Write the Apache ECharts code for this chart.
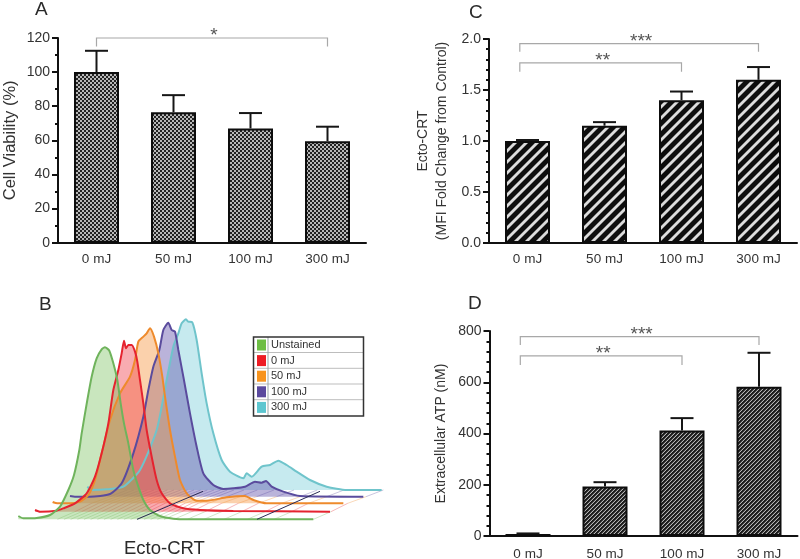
<!DOCTYPE html>
<html><head><meta charset="utf-8">
<style>html,body{margin:0;padding:0;background:#fff}#c{width:800px;height:559px}</style>
<script src="https://cdn.jsdelivr.net/npm/echarts@6/dist/echarts.min.js"></script>
</head><body><div id="c"></div>
<script>
const categories = ['0 mJ','50 mJ','100 mJ','300 mJ'];
const viability = [100,76.5,67,59.5];
const viabilityTop = [112.5,86.5,76,68];
const ectoCrt = [1.0,1.15,1.40,1.60];
const ectoCrtTop = [1.01,1.185,1.485,1.725];
const atp = [8,193,412,582];
const atpTop = [10,210,460,715];
// bracket: from category, to category, bar level, foot level, left shift in bands, stars
const bracketsA = [[0,3,120,115,0,'*']];
const bracketsC = [[0,3,1.954,1.875,-0.1,'***'],[0,2,1.765,1.68,-0.1,'**']];
const bracketsD = [[0,3,778,745,-0.1,'***'],[0,2,703,667,-0.1,'**']];

const curveNames = ['Unstained','0 mJ','50 mJ','100 mJ','300 mJ'];
const curveUnstained = [[3,10],[18,3],[58,4],[98,13],[128,38],[153,88],[170,133],[186,208],[193,258],[210,358],[223,428],[238,483],[253,510],[263,516],[276,506],[288,468],[300,418],[310,348],[320,288],[333,228],[348,148],[363,98],[378,58],[398,28],[428,10],[468,2],[508,0],[888,0]];
const curve0 = [[0,5],[15,0],[65,3],[85,10],[120,25],[155,55],[180,105],[200,175],[220,265],[235,365],[250,425],[260,475],[267,513],[273,490],[280,500],[290,500],[300,480],[307,450],[315,395],[325,325],[335,245],[350,165],[365,95],[380,55],[405,25],[445,10],[495,5],[595,2],[885,0]];
const curve50 = [[3,4],[17,0],[55,0],[85,5],[110,25],[130,70],[150,150],[175,250],[205,330],[235,380],[250,430],[260,485],[275,500],[285,510],[295,525],[307,500],[320,450],[332,380],[340,320],[355,220],[370,140],[385,70],[405,30],[435,8],[465,8],[525,18],[580,22],[605,10],[645,0],[875,0]];
const curve100 = [[0,2],[15,0],[60,0],[120,8],[155,40],[190,130],[220,240],[235,320],[250,390],[268,440],[280,500],[295,522],[305,500],[315,495],[325,440],[340,360],[360,250],[380,150],[400,70],[430,35],[460,23],[490,25],[525,30],[555,45],[575,42],[588,47],[605,30],[640,15],[690,2],[880,0]];
const curve300 = [[0,10],[13,0],[58,2],[108,10],[158,60],[208,180],[238,330],[258,430],[273,470],[283,500],[296,512],[303,505],[315,503],[328,450],[343,350],[358,260],[378,170],[403,90],[428,55],[468,35],[478,50],[493,40],[523,70],[548,75],[573,88],[598,75],[628,55],[668,30],[718,10],[778,0],[883,0]];
const curves = [curveUnstained,curve0,curve50,curve100,curve300];
const lineColors = ['#6fb35c','#e5232f','#ee8a2c','#5a4b9d','#6fc4cb'];
const fillColors = ['#7fc463','#ee3a45','#f5923a','#5a4ba8','#78cdd8'];
const swatchColors = ['#6dbe45','#ed1c24','#f7941e','#5b4a9e','#5cc6d0'];
const floorHatch = [120,140,160,180,200,220,240,260,280,300,320,340,360,380,400,420,440,470,510,560,620,690,770,888];
const gateLines = [[359,557],[719,908]];

const chart = echarts.init(document.getElementById('c'),null,{renderer:'canvas'});

function tile(size,colorAt){
  const c=document.createElement('canvas');c.width=c.height=size;
  const g=c.getContext('2d');
  for(let y=0;y<size;y++)for(let x=0;x<size;x++){g.fillStyle=colorAt(x,y);g.fillRect(x,y,1,1);}
  return {image:c,repeat:'repeat'};
}
const patChecker = tile(4,(x,y)=>(((x>>1)+(y>>1))%2)?'#222':'#b8b8b8');
const patWide = tile(11,(x,y)=>{const v=(x+y)%11;return v<6?'#0d0d0d':(v===6||v===10)?'#777':'#dcdcdc';});
const patFine = tile(4,(x,y)=>['#1c1c1c','#1c1c1c','#444','#b5b5b5'][(x+y)%4]);

const text='#333';
const font='"Liberation Sans", Arial, sans-serif';
function xAxis(g,margin){return {type:'category',gridIndex:g,data:categories,
  axisLine:{lineStyle:{color:'#111',width:2}},
  axisTick:{alignWithLabel:true,length:6,lineStyle:{color:'#111',width:2}},
  axisLabel:{color:text,fontFamily:font,fontSize:13.5,margin}};}
function yAxis(g,max,interval,minor,name,gap,nameSize,fmt){return {type:'value',gridIndex:g,min:0,max,interval,
  name,nameLocation:'middle',nameGap:gap,nameRotate:90,
  nameTextStyle:{color:text,fontFamily:font,fontSize:nameSize,lineHeight:19},
  splitLine:{show:false},
  axisLine:{show:true,lineStyle:{color:'#111',width:2}},
  axisTick:{show:true,length:6,lineStyle:{color:'#111',width:2}},
  minorTick:{show:true,splitNumber:minor,length:3,lineStyle:{color:'#111',width:2}},
  axisLabel:{color:text,fontFamily:font,fontSize:14,margin:8,formatter:fmt}};}

function bar(g,vals,pat){return {type:'bar',xAxisIndex:g,yAxisIndex:g,data:vals,barWidth:45,z:2,
  itemStyle:{color:pat,borderColor:'#0d0d0d',borderWidth:2}};}
function errors(g,vals,tops){return {type:'custom',xAxisIndex:g,yAxisIndex:g,z:3,
  data:vals.map((v,i)=>[i,v,tops[i]]),encode:{x:0,y:[1,2]},
  renderItem(p,api){
    const a=api.coord([api.value(0),api.value(1)]),b=api.coord([api.value(0),api.value(2)]);
    const st={stroke:'#161616',lineWidth:2,fill:null};
    return {type:'group',children:[
      {type:'line',shape:{x1:a[0],y1:a[1],x2:b[0],y2:b[1]},style:st},
      {type:'line',shape:{x1:b[0]-11.5,y1:b[1],x2:b[0]+11.5,y2:b[1]},style:st}]};
  }};}
function brackets(g,list){return {type:'custom',xAxisIndex:g,yAxisIndex:g,z:4,clip:false,
  data:list.map(b=>b.slice(0,5)),encode:{x:[0,1],y:[2,3]},
  renderItem(p,api){
    const band=api.size([1,0])[0], sh=api.value(4)*band;
    const l=api.coord([api.value(0),api.value(2)]),r=api.coord([api.value(1),api.value(2)]);
    const f=api.coord([api.value(0),api.value(3)]);
    const x1=l[0]+sh,x2=r[0],y=l[1],yf=f[1];
    return {type:'group',children:[
      {type:'polyline',shape:{points:[[x1,yf],[x1,y],[x2,y],[x2,yf]]},style:{stroke:'#a8a8a8',lineWidth:1.2,fill:null}},
      {type:'text',style:{x:(x1+x2)/2+2,y:y-2,text:list[p.dataIndex][5],textAlign:'center',textVerticalAlign:'middle',fill:'#555',font:'19px '+font}}]};
  }};}

// histogram lanes: own axes offset like a flow-cytometry overlay
const laneLeft = [17.33,35,51.67,70,87.33];
const laneBase = [519.33,511.67,503.33,496.67,490];
const grids=[{left:58,top:38,width:308,height:204.7,outerBoundsMode:'none'},
  {left:489,top:39,width:308,height:204,outerBoundsMode:'none'},
  {left:489.5,top:331,width:308,height:205,outerBoundsMode:'none'}];
const xs=[xAxis(0,10),xAxis(1,9),xAxis(2,11)];
const ys=[yAxis(0,120,20,2,'Cell Viability (%)',38,16.5),
  yAxis(1,2,0.5,5,'Ecto-CRT\n(MFI Fold Change from Control)',37,14,v=>v.toFixed(1)),
  yAxis(2,800,200,5,'Extracellular ATP (nM)',39,14)];
laneLeft.forEach((l,i)=>{
  grids.push({left:l,top:laneBase[i]-200,width:300,height:200,outerBoundsMode:'none'});
  xs.push({type:'value',gridIndex:3+i,min:0,max:900,show:false});
  ys.push({type:'value',gridIndex:3+i,min:0,max:600,show:false});
});
const series=[bar(0,viability,patChecker),errors(0,viability,viabilityTop),brackets(0,bracketsA),
  bar(1,ectoCrt,patWide),errors(1,ectoCrt,ectoCrtTop),brackets(1,bracketsC),
  bar(2,atp,patFine),errors(2,atp,atpTop),brackets(2,bracketsD)];
// floor hatching between lanes, back to front
for(let i=3;i>=0;i--){
  const dx=(laneLeft[i+1]-laneLeft[i])*3, dy=(laneBase[i]-laneBase[i+1])*3;
  series.push({type:'custom',xAxisIndex:3+i,yAxisIndex:3+i,z:1,silent:true,clip:false,
    data:floorHatch.map(x=>[x,0]),
    renderItem(p,api){
      const a=api.coord([api.value(0),0]),b=api.coord([api.value(0)+dx,dy]);
      return {type:'line',shape:{x1:a[0],y1:a[1],x2:b[0],y2:b[1]},style:{stroke:lineColors[i],opacity:.33,lineWidth:1}};
    }});
}
for(let i=4;i>=0;i--){
  series.push({type:'line',name:curveNames[i],xAxisIndex:3+i,yAxisIndex:3+i,data:curves[i],
    smooth:.2,showSymbol:false,symbol:'none',clip:false,z:2,
    lineStyle:{color:lineColors[i],width:2},itemStyle:{color:swatchColors[i]},
    areaStyle:{color:fillColors[i],opacity:.42}});
}
series.push({type:'custom',xAxisIndex:3,yAxisIndex:3,z:3,silent:true,clip:false,
  data:gateLines,encode:{x:[0,1]},
  renderItem(p,api){
    const a=api.coord([api.value(0),0]),b=api.coord([api.value(1),84]);
    return {type:'line',shape:{x1:a[0],y1:a[1],x2:b[0],y2:b[1]},style:{stroke:'#2b2b55',lineWidth:1}};
  }});

function label(t,left,top,size){return {text:t,left,top,padding:0,textStyle:{color:'#2a2a2a',fontFamily:font,fontWeight:'normal',fontSize:size}};}
const rowLine=y=>({type:'line',shape:{x1:254,y1:y,x2:363,y2:y},style:{stroke:'#bdbdbd',lineWidth:1}});
chart.setOption({
  animation:false,backgroundColor:'#fff',
  title:[label('A',35,0,19),label('B',39,295,19),label('C',469,3,19),label('D',468,294,19),label('Ecto-CRT',124,539,18.5)],
  grid:grids,xAxis:xs,yAxis:ys,series,
  legend:{left:257,top:339.5,orient:'vertical',padding:0,itemGap:4.6,itemWidth:9,itemHeight:11,itemTextGap:6,icon:'rect',
    selectedMode:false,data:curveNames,textStyle:{color:text,fontFamily:font,fontSize:11}},
  graphic:{elements:[
    {type:'group',silent:true,z:0,children:[
      rowLine(352.5),rowLine(368.3),rowLine(384),rowLine(399.7),
      {type:'line',shape:{x1:268,y1:337,x2:268,y2:416},style:{stroke:'#9aa7a7',lineWidth:1}},
      {type:'rect',shape:{x:253.5,y:337,width:110,height:79},style:{stroke:'#333',lineWidth:1.5,fill:null}}]}
  ]}
});
</script></body></html>
